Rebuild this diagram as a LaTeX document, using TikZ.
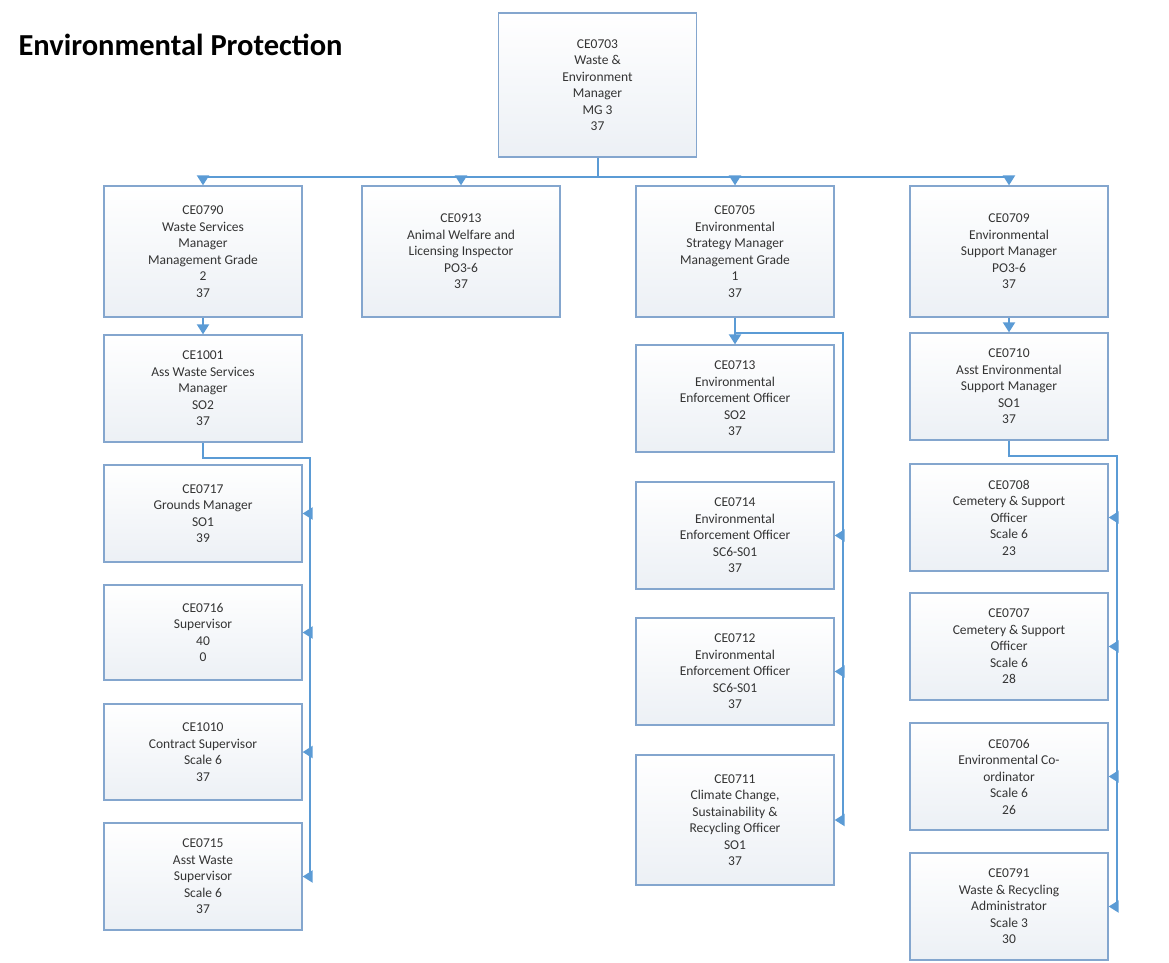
\documentclass[tikz,border=0pt]{standalone}
\usepackage{fontspec}
\setmainfont{Carlito}
\usetikzlibrary{arrows.meta}
\definecolor{boxline}{RGB}{132,166,206}
\definecolor{linkblue}{RGB}{91,155,213}
\definecolor{textgray}{RGB}{52,52,52}
\definecolor{boxfill}{RGB}{236,240,245}
\tikzset{x=1pt, y=-1pt,
  post/.style={draw=boxline, line width=1.3pt, top color=white, bottom color=boxfill,
    minimum width=198pt, minimum height=107pt, inner sep=0pt, align=center,
    text=textgray, font=\fontsize{13.5}{16.5}\selectfont},
  link/.style={draw=linkblue, line width=2pt},
  ->/.style={link, -{Triangle[width=12pt,length=10pt]}}}

\begin{document}
\begin{tikzpicture}
        \useasboundingbox (0,0) rectangle (1169,962);

        \node[anchor=base west, font=\bfseries\fontsize{30.5}{34}\selectfont, text=black] (title) at (15,55) {Environmental Protection};

        \node[post, minimum height=144pt] (ce0703) at (597.5,85) {CE0703\\Waste \&\\Environment\\Manager\\MG 3\\37};

        \node[post, minimum height=131pt] (ce0790) at (203,251.5)  {CE0790\\Waste Services\\Manager\\Management Grade\\2\\37};
        \node[post, minimum height=131pt] (ce0913) at (461,251.5)  {CE0913\\Animal Welfare and\\Licensing Inspector\\PO3-6\\37};
        \node[post, minimum height=131pt] (ce0705) at (735,251.5)  {CE0705\\Environmental\\Strategy Manager\\Management Grade\\1\\37};
        \node[post, minimum height=131pt] (ce0709) at (1009,251.5) {CE0709\\Environmental\\Support Manager\\PO3-6\\37};

        \node[post] (ce1001) at (203,388.5) {CE1001\\Ass Waste Services\\Manager\\SO2\\37};
        \node[post, minimum height=97pt] (ce0717) at (203,513.5) {CE0717\\Grounds Manager\\SO1\\39};
        \node[post, minimum height=95pt] (ce0716) at (203,632.5) {CE0716\\Supervisor\\40\\0};
        \node[post, minimum height=96pt] (ce1010) at (203,752)   {CE1010\\Contract Supervisor\\Scale 6\\37};
        \node[post] (ce0715) at (203,876.5) {CE0715\\Asst Waste\\Supervisor\\Scale 6\\37};

        \node[post] (ce0713) at (735,398.5) {CE0713\\Environmental\\Enforcement Officer\\SO2\\37};
        \node[post] (ce0714) at (735,535.5) {CE0714\\Environmental\\Enforcement Officer\\SC6-S01\\37};
        \node[post] (ce0712) at (735,671.5) {CE0712\\Environmental\\Enforcement Officer\\SC6-S01\\37};
        \node[post, minimum height=130pt] (ce0711) at (735,820) {CE0711\\Climate Change,\\Sustainability \&\\Recycling Officer\\SO1\\37};

        \node[post] (ce0710) at (1009,386.5) {CE0710\\Asst Environmental\\Support Manager\\SO1\\37};
        \node[post] (ce0708) at (1009,517.5) {CE0708\\Cemetery \& Support\\Officer\\Scale 6\\23};
        \node[post] (ce0707) at (1009,646.5) {CE0707\\Cemetery \& Support\\Officer\\Scale 6\\28};
        \node[post] (ce0706) at (1009,776.5) {CE0706\\Environmental Co-\\ordinator\\Scale 6\\26};
        \node[post] (ce0791) at (1009,906.5) {CE0791\\Waste \& Recycling\\Administrator\\Scale 3\\30};

        \coordinate (bus)   at (597.5,177);
        \coordinate (lrail) at (310,458);
        \coordinate (mrail) at (843,333);
        \coordinate (rrail) at (1117,456);

        \draw[link] (ce0703.south) -- (bus);
        \draw[->] (bus) -| (ce0790.north);
        \draw[->] (bus) -| (ce0913.north);
        \draw[->] (bus) -| (ce0705.north);
        \draw[->] (bus) -| (ce0709.north);

        \draw[->] (ce0790) to (ce1001);
        \draw[link] (ce1001.south) |- (lrail) -- (lrail |- ce0715.east);
        \draw[->] (lrail |- ce0717.east) to (ce0717.east);
        \draw[->] (lrail |- ce0716.east) to (ce0716.east);
        \draw[->] (lrail |- ce1010.east) to (ce1010.east);
        \draw[->] (lrail |- ce0715.east) to (ce0715.east);

        \draw[->] (ce0705) to (ce0713);
        \draw[link] (ce0705.south) |- (mrail) -- (mrail |- ce0711.east);
        \draw[->] (mrail |- ce0714.east) to (ce0714.east);
        \draw[->] (mrail |- ce0712.east) to (ce0712.east);
        \draw[->] (mrail |- ce0711.east) to (ce0711.east);

        \draw[->] (ce0709) to (ce0710);
        \draw[link] (ce0710.south) |- (rrail) -- (rrail |- ce0791.east);
        \draw[->] (rrail |- ce0708.east) to (ce0708.east);
        \draw[->] (rrail |- ce0707.east) to (ce0707.east);
        \draw[->] (rrail |- ce0706.east) to (ce0706.east);
        \draw[->] (rrail |- ce0791.east) to (ce0791.east);
\end{tikzpicture}
\end{document}
